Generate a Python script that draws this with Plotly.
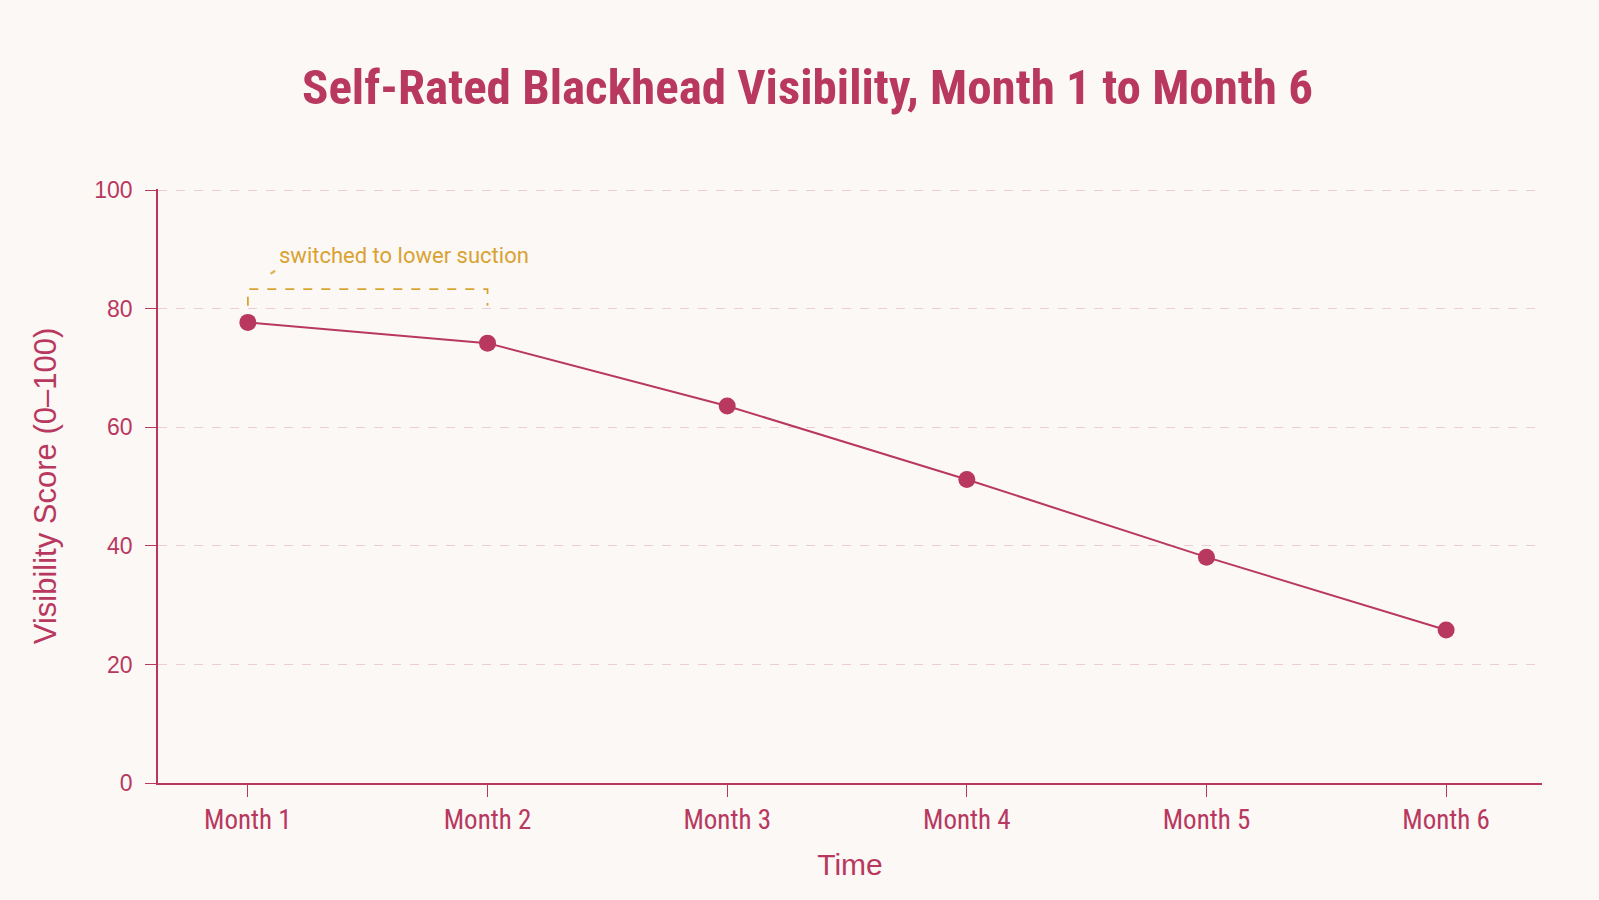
import plotly.graph_objects as go

months = ["Month 1", "Month 2", "Month 3", "Month 4", "Month 5", "Month 6"]
scores = [77.7, 74.2, 63.6, 51.2, 38.1, 25.8]
y_ticks = [0, 20, 40, 60, 80, 100]
note_text = "switched to lower suction"
note_span = (0, 1)

RED = "#B8385F"
GOLD = "#D9A232"
BG = "#FCF8F6"
GRID = "#EDCDD3"

x_idx = list(range(len(months)))

fig = go.Figure()
fig.add_trace(go.Scatter(
    x=x_idx, y=scores, mode="lines+markers",
    line=dict(color=RED, width=2),
    marker=dict(color=RED, size=17),
    hoverinfo="skip", showlegend=False,
))

top = max(scores[note_span[0]:note_span[1] + 1])
br_y = top + 5.6
leg_y = top + 2.8
fig.add_shape(type="path",
              path=f"M {note_span[0]},{leg_y} L {note_span[0]},{br_y} L {note_span[1]},{br_y} L {note_span[1]},{leg_y}",
              xref="x", yref="y", line=dict(color=GOLD, width=1.8, dash="dash"))
fig.add_annotation(x=note_span[0] + 0.12, y=br_y + 5.7, xref="x", yref="y",
                   text=note_text, showarrow=False, xanchor="left", yanchor="middle",
                   font=dict(family="Roboto, Liberation Sans, sans-serif", size=22, color=GOLD))
# small leader tick under the note
fig.add_annotation(x=note_span[0] + 0.095, y=br_y + 2.6, xref="x", yref="y",
                   text="", showarrow=True, arrowhead=0, arrowwidth=2.2,
                   arrowcolor=GOLD, ax=6, ay=-4, opacity=0.8)

fig.update_layout(
    width=1599, height=900,
    paper_bgcolor=BG, plot_bgcolor=BG,
    margin=dict(l=158, r=57, t=189, b=117),
    title=dict(text="<b>Self-Rated Blackhead Visibility, Month 1 to Month 6</b>",
               x=0.505, xanchor="center", y=0.904, yanchor="middle",
               font=dict(family="Roboto Condensed, Liberation Sans Narrow, Arial Narrow, sans-serif",
                         size=49, color=RED)),
    xaxis=dict(
        range=[-0.375, 5.4], tickvals=x_idx, ticktext=months,
        showgrid=False, zeroline=False,
        showline=True, linecolor=RED, linewidth=1.5,
        ticks="outside", ticklen=12, tickcolor=RED, tickwidth=1.2,
        ticklabelstandoff=0,
        tickfont=dict(family="Roboto Condensed, Liberation Sans Narrow, sans-serif", size=27, color=RED),
        title=dict(text="Time", standoff=19,
                   font=dict(family="Liberation Sans, Arial, sans-serif", size=30, color=RED)),
    ),
    yaxis=dict(
        range=[0, 100.2], tickvals=y_ticks,
        showgrid=True, gridcolor=GRID, griddash="dash", gridwidth=1,
        zeroline=False,
        showline=True, linecolor=RED, linewidth=1.5,
        ticks="outside", ticklen=11, tickcolor=RED, tickwidth=1.2,
        ticklabelstandoff=8,
        tickfont=dict(family="Liberation Sans, Arial, sans-serif", size=23, color=RED),
        title=dict(text="Visibility Score (0–100)", standoff=28,
                   font=dict(family="Liberation Sans, Arial, sans-serif", size=31, color=RED)),
    ),
)

fig.write_html("out.html")
